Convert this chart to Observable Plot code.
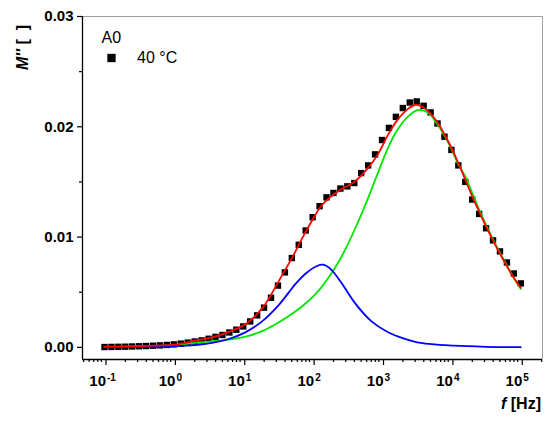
<!DOCTYPE html>
<html><head><meta charset="utf-8">
<script src="https://cdn.jsdelivr.net/npm/d3@7"></script>
<script src="https://cdn.jsdelivr.net/npm/@observablehq/plot@0.6"></script>
<style>body{margin:0;background:#fff;} svg{display:block}</style>
</head><body><div id="chart"></div>
<script>
// measured points: log10(f / Hz) and M''
const dataLogF = [-1.0,-0.9,-0.8,-0.7,-0.6,-0.5,-0.4,-0.3,-0.2,-0.1,0.0,0.1,0.2,0.3,0.4,0.5,0.6,0.7,0.8,0.9,1.0,1.1,1.2,1.3,1.4,1.5,1.6,1.7,1.8,1.9,2.0,2.1,2.2,2.3,2.4,2.5,2.6,2.7,2.8,2.9,3.0,3.1,3.2,3.3,3.4,3.5,3.6,3.7,3.8,3.9,4.0,4.1,4.2,4.3,4.4,4.5,4.6,4.7,4.8,4.9,5.0];
const dataM = [0.00003,0.00004,0.00005,0.00006,0.00008,0.00010,0.00012,0.00015,0.00018,0.00022,0.00027,0.00034,0.00043,0.00053,0.00063,0.00078,0.00095,0.00112,0.00135,0.00160,0.00190,0.00235,0.0029,0.0036,0.0045,0.0056,0.0068,0.0081,0.0093,0.0106,0.0118,0.0128,0.0136,0.0140,0.0144,0.0146,0.0149,0.0158,0.0165,0.0175,0.0188,0.0199,0.0209,0.0217,0.0222,0.0223,0.0219,0.0213,0.0203,0.0191,0.0179,0.0165,0.0150,0.0134,0.0121,0.0108,0.0097,0.0087,0.0077,0.0067,0.0058];

// total fit (red)
const redLogF = [-1,-0.5,0,0.3,0.55,0.79,1.03,1.28,1.52,1.71,1.85,2.0,2.12,2.25,2.4,2.6,2.79,2.94,3.08,3.22,3.37,3.49,3.63,3.8,3.9,4.0,4.1,4.2,4.3,4.4,4.52,4.64,4.76,4.88,5.0];
const redM = [0.00006,0.00011,0.00025,0.0006,0.0009,0.0014,0.0021,0.0036,0.0061,0.0082,0.0099,0.0116,0.0128,0.0136,0.0143,0.0150,0.0162,0.0175,0.0192,0.0206,0.0216,0.0220,0.0216,0.0204,0.0193,0.0181,0.0167,0.0152,0.0137,0.0123,0.0107,0.0092,0.0078,0.0065,0.0054];

// high-frequency component (green)
const greenLogF = [-1,-0.5,0,0.31,0.79,1.03,1.28,1.52,1.76,1.9,2.02,2.12,2.26,2.36,2.48,2.65,2.79,2.94,3.08,3.22,3.37,3.51,3.66,3.8,3.9,4.0,4.09,4.2,4.28,4.4,4.52,4.64,4.76,4.88,5.0];
const greenM = [0.00004,0.0001,0.0002,0.0004,0.0007,0.00097,0.0015,0.0023,0.0033,0.0040,0.0047,0.0054,0.0066,0.0076,0.0090,0.0113,0.0134,0.0158,0.0180,0.0197,0.0209,0.0215,0.0213,0.0202,0.0192,0.0180,0.0167,0.0155,0.0143,0.0125,0.0108,0.0093,0.0079,0.0065,0.0053];

// low-frequency component (blue)
const blueLogF = [-1,-0.5,0,0.31,0.55,0.79,1.03,1.28,1.52,1.76,1.9,2.07,2.15,2.26,2.41,2.6,2.84,3.08,3.32,3.56,4.04,4.5,5.0];
const blueM = [0.00002,0.00004,0.0001,0.0002,0.0004,0.00076,0.00136,0.0024,0.0039,0.0058,0.0067,0.0074,0.0075,0.0071,0.0059,0.0041,0.0024,0.0014,0.0008,0.0004,0.00015,0.00005,0.00002];

const majorX = [0.1, 1, 10, 100, 1000, 10000, 100000];
const yMajor = [0, 0.01, 0.02, 0.03];
const yMinor = [0.005, 0.015, 0.025];

const font = "'Liberation Sans', Arial, sans-serif";
const xDomain = [Math.pow(10, -1.317), Math.pow(10, 5.313)];
const yDomain = [-0.0011, 0.03];

const minorX = [];
for (let e = -2; e <= 5; e++) for (let k = 2; k <= 9; k++) {
  const v = k * Math.pow(10, e);
  if (v >= xDomain[0] && v <= xDomain[1]) minorX.push(v);
}

const rows = (L, M) => L.map((l, i) => ({f: Math.pow(10, l), m: M[i]}));
const dataRows = rows(dataLogF, dataM);
const redRows = rows(redLogF, redM);
const greenRows = rows(greenLogF, greenM);
const blueRows = rows(blueLogF, blueM);

const chart = Plot.plot({
  width: 550, height: 424,
  marginLeft: 82, marginRight: 8, marginTop: 16, marginBottom: 65,
  style: {fontFamily: font, background: "#fff", color: "#000", overflow: "visible"},
  x: {type: "log", domain: xDomain},
  y: {domain: yDomain},
  marks: [
    Plot.ruleY([yDomain[1]], {stroke: "#a0a0a0", strokeWidth: 1}),
    Plot.ruleX([xDomain[1]], {stroke: "#a0a0a0", strokeWidth: 1}),
    Plot.dot(dataRows, {x: "f", y: "m", symbol: "square", r: 3.6, fill: "#000", stroke: null}),
    Plot.line(greenRows, {x: "f", y: "m", stroke: "#00e600", strokeWidth: 1.8, curve: "catmull-rom"}),
    Plot.line(blueRows, {x: "f", y: "m", stroke: "#0000ff", strokeWidth: 1.8, curve: "catmull-rom"}),
    Plot.line(redRows, {x: "f", y: "m", stroke: "#ff0000", strokeWidth: 1.8, curve: "catmull-rom"}),
    Plot.axisY({ticks: yMajor, tickFormat: d3.format(".2f"), tickSize: 5, tickPadding: 4, fontSize: 15, fontWeight: "bold", label: null, strokeWidth: 1.2}),
    Plot.axisY({ticks: yMinor, tickSize: 3, tickFormat: () => "", label: null, strokeWidth: 1.2}),
    Plot.axisX({ticks: majorX, tickSize: 6, tickPadding: 10, tickFormat: () => "10", textAnchor: "end", fontSize: 15, fontWeight: "bold", dx: 1.5, label: null, strokeWidth: 1.2}),
    Plot.axisX({ticks: majorX, tickSize: 0, tickPadding: 14, tickFormat: d => String(Math.round(Math.log10(d))), textAnchor: "start", dx: 2.5, fontSize: 10, fontWeight: "bold", label: null}),
    Plot.axisX({ticks: minorX, tickSize: 3, tickFormat: () => "", label: null, strokeWidth: 1.2}),
    Plot.ruleX([xDomain[0]], {stroke: "#000", strokeWidth: 1.3}),
    Plot.ruleY([yDomain[0]], {stroke: "#000", strokeWidth: 1.3}),
    Plot.text(["A0"], {text: d => d, frameAnchor: "top-left", dx: 19, dy: 21.5, textAnchor: "start", lineAnchor: "middle", fontSize: 16}),
    Plot.dot([0], {frameAnchor: "top-left", dx: 29, dy: 41.5, symbol: "square", r: 4.7, fill: "#000", stroke: null}),
    Plot.text(["40 °C"], {text: d => d, frameAnchor: "top-left", dx: 54.5, dy: 41.5, textAnchor: "start", lineAnchor: "middle", fontSize: 16})
  ]
});

document.getElementById("chart").appendChild(chart);

const svg = d3.select(chart);
const yl = svg.append("text")
  .attr("transform", "translate(28,47.5) rotate(-90)")
  .attr("text-anchor", "middle")
  .attr("font-family", font).attr("font-size", 16).attr("font-weight", "bold").attr("fill", "#000");
yl.append("tspan").attr("font-style", "italic").text("M''");
yl.append("tspan").text(" [\u00a0\u00a0]");

const xl = svg.append("text")
  .attr("x", 541).attr("y", 409)
  .attr("text-anchor", "end")
  .attr("font-family", font).attr("font-size", 16).attr("font-weight", "bold").attr("fill", "#000");
xl.append("tspan").attr("font-style", "italic").text("f");
xl.append("tspan").text(" [Hz]");
</script>
</body></html>
